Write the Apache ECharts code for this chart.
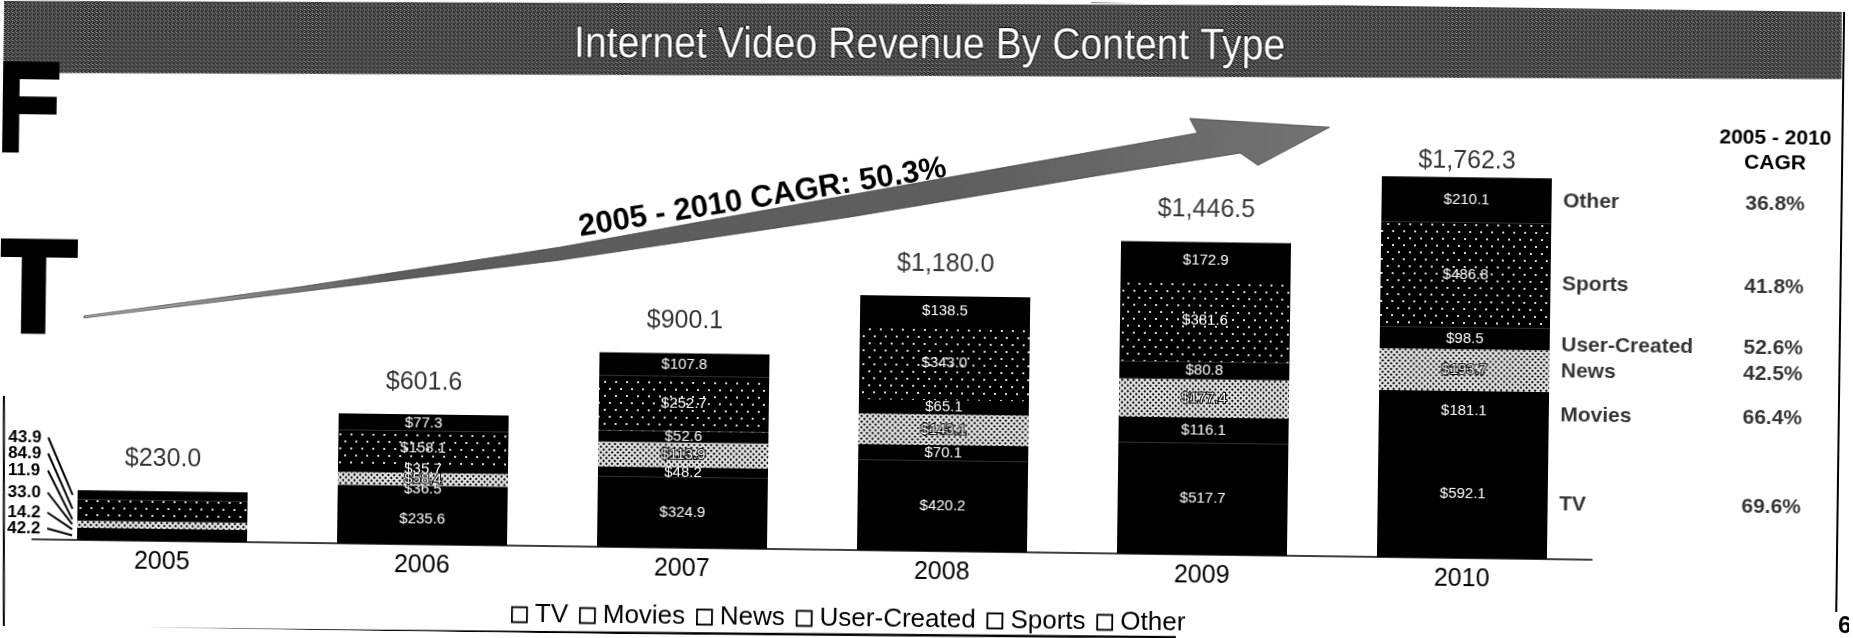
<!DOCTYPE html>
<html>
<head>
<meta charset="utf-8">
<title>Internet Video Revenue By Content Type</title>
<script src="https://cdn.jsdelivr.net/npm/echarts@6/dist/echarts.min.js"></script>
<style>
  html, body { margin: 0; padding: 0; background: #fff; overflow: hidden; }
  #chart { width: 1853px; height: 638px; transform: rotate(0.75deg); transform-origin: 50% 50%; }
</style>
</head>
<body>
<div id="chart"></div>
<script>
// Revenue by content type, $ millions
const years = ['2005', '2006', '2007', '2008', '2009', '2010'];
const tv          = [42.2, 235.6, 324.9, 420.2, 517.7, 592.1];
const movies      = [14.2, 36.5, 48.2, 70.1, 116.1, 181.1];
const news        = [33.0, 58.4, 113.9, 143.1, 177.4, 193.7];
const userCreated = [11.9, 35.7, 52.6, 65.1, 80.8, 98.5];
const sports      = [84.9, 158.1, 252.7, 343.0, 381.6, 486.8];
const other       = [43.9, 77.3, 107.8, 138.5, 172.9, 210.1];
const totals      = [230.0, 601.6, 900.1, 1180.0, 1446.5, 1762.3];
// 2005-2010 CAGR per content type (TV, Movies, News, User-Created, Sports, Other)
const cagr        = [69.6, 66.4, 42.5, 52.6, 41.8, 36.8];
const overallCagr = 50.3;

const names  = ['TV', 'Movies', 'News', 'User-Created', 'Sports', 'Other'];
const values = [tv, movies, news, userCreated, sports, other];

const FONT = '"Liberation Sans", Arial, Helvetica, sans-serif';
const BAR_WIDTH = 170;

const money = v => v.toLocaleString('en-US', { minimumFractionDigits: 1, maximumFractionDigits: 1 });

// small repeating dither used for the header band
function makeTexture(size, bg, fg, dots) {
  const c = document.createElement('canvas');
  c.width = size; c.height = size;
  const g = c.getContext('2d');
  g.fillStyle = bg; g.fillRect(0, 0, size, size);
  g.fillStyle = fg;
  dots.forEach(([x, y]) => g.fillRect(x, y, 1, 1));
  return c;
}
const bannerTexture = makeTexture(4, '#262626', '#9a9a9a',
  [[0, 0], [2, 1], [1, 2], [3, 3], [2, 3]]);

// per-segment fills
const segmentStyle = {
  'TV': { color: '#000' },
  'Movies': { color: '#000' },
  'News': {
    color: '#e4e4e4',
    decal: { symbol: 'rect', symbolSize: 1, color: '#000',
             dashArrayX: [1.5, 1.5], dashArrayY: [1.5, 1.5], rotation: 0.785 }
  },
  'User-Created': { color: '#000' },
  'Sports': {
    color: '#000',
    decal: { symbol: 'rect', symbolSize: 1, color: 'rgba(255,255,255,0.85)',
             dashArrayX: [[1.5, 8.5], [0, 5, 1.5, 3.5]], dashArrayY: [1.5, 5] }
  },
  'Other': { color: '#000' }
};

// where the 2005 call-out figures sit, left of the first bar
const calloutY = { 'Other': 449, 'Sports': 465, 'User-Created': 482, 'News': 504, 'Movies': 524, 'TV': 540 };
// small vertical nudges for the name / CAGR column
const noteNudge = { 'Other': 0, 'Sports': 8, 'User-Created': 6, 'News': 0, 'Movies': 4, 'TV': 9 };

const barSeries = names.map((name, k) => ({
  name,
  type: 'bar',
  stack: 'revenue',
  barWidth: BAR_WIDTH,
  silent: true,
  itemStyle: segmentStyle[name],
  data: values[k].map((v, i) => i === 0
    ? { value: v, label: { color: '#000', fontWeight: 'bold', fontSize: 17, textBorderWidth: 0 } }
    : v),
  label: {
    show: true,
    position: 'inside',
    color: '#fff',
    fontSize: 15,
    fontFamily: FONT,
    textBorderColor: name === 'News' ? '#000' : 'transparent',
    textBorderWidth: name === 'News' ? 2 : 0,
    formatter: p => p.dataIndex === 0 ? p.value.toFixed(1) : '$' + p.value.toFixed(1)
  },
  labelLayout: p => p.dataIndex === 0
    ? { x: 10, y: calloutY[name], align: 'left', verticalAlign: 'middle' }
    : {}
}));

// stack totals printed above each column
const totalSeries = {
  name: 'Total',
  type: 'scatter',
  symbolSize: 1,
  silent: true,
  itemStyle: { color: 'rgba(0,0,0,0)' },
  data: totals.map((v, i) => ({
    value: [years[i], v],
    label: { distance: i === years.length - 1 ? 3 : 19 }
  })),
  label: {
    show: true, position: 'top', fontSize: 25, color: '#000', fontFamily: FONT,
    formatter: p => '$' + money(p.value[1])
  },
  z: 5
};

// content-type names and CAGR column next to the last column
const last = years.length - 1;
let running = 0;
const noteData = names.map((name, k) => {
  const v = values[k][last];
  const mid = running + v / 2;
  running += v;
  return {
    name,
    value: [years[last], mid],
    label: {
      offset: [0, noteNudge[name]],
      formatter: '{n|' + name + '}{p|' + cagr[k].toFixed(1) + '%}'
    }
  };
});
const noteSeries = {
  name: 'notes',
  type: 'scatter',
  symbolSize: 1,
  silent: true,
  itemStyle: { color: 'rgba(0,0,0,0)' },
  data: noteData,
  label: {
    show: true, position: 'right', distance: 96, color: '#000',
    rich: {
      n: { fontSize: 21, fontWeight: 'bold', width: 167, color: '#000', fontFamily: FONT },
      p: { fontSize: 21, fontWeight: 'bold', width: 90, align: 'center', color: '#000', fontFamily: FONT }
    }
  },
  z: 10
};

// growth arrow outline
const arrowPoints = [
  [84, 327], [300, 295], [559, 252], [848, 196], [1195, 129.5], [1187, 115],
  [1327, 122], [1256, 161], [1238, 149], [1098, 173], [849, 218], [559, 265],
  [300, 300], [84, 329]
];

const graphics = [
  {
    id: 'banner', type: 'group', x: 926, y: 40, rotation: 0.55 * Math.PI / 180,
    children: [
      { type: 'rect', shape: { x: -940, y: -36, width: 1852, height: 72 },
        style: { fill: { image: bannerTexture, repeat: 'repeat' } } },
      { type: 'text', x: 0, y: 6, scaleX: 0.89,
        style: { text: 'Internet Video Revenue By Content Type', fill: '#fff',
                 fontSize: 44, fontFamily: FONT, align: 'center', verticalAlign: 'middle',
                 stroke: '#111', lineWidth: 2 } }
    ]
  },
  {
    id: 'arrow', type: 'polygon', z: 1,
    shape: { points: arrowPoints },
    style: {
      fill: { type: 'linear', x: 0, y: 0, x2: 1, y2: 0,
              colorStops: [{ offset: 0, color: '#b0b0b0' }, { offset: 0.25, color: '#5c5c5c' },
                           { offset: 0.7, color: '#5e5e5e' }, { offset: 1, color: '#737373' }] },
      stroke: '#222', lineWidth: 0.6
    }
  },
  {
    id: 'arrowText', type: 'text', x: 761, y: 200, rotation: 10 * Math.PI / 180, z: 2,
    style: { text: '2005 - 2010 CAGR: ' + overallCagr.toFixed(1) + '%', fill: '#000',
             fontSize: 31, fontWeight: 'bold', fontFamily: FONT, align: 'center', verticalAlign: 'middle' }
  },
  {
    id: 'cagrHead', type: 'text', x: 1773, y: 140,
    style: { text: years[0] + ' - ' + years[last] + '\nCAGR', fill: '#000', fontSize: 21,
             fontWeight: 'bold', fontFamily: FONT, align: 'center', verticalAlign: 'middle', lineHeight: 25 }
  },
  {
    id: 'bigF', type: 'text', x: -18, y: 133,
    style: { text: 'F', fill: '#000', fontSize: 124, fontWeight: 'bold',
             fontFamily: '"DejaVu Sans", sans-serif', align: 'left', verticalAlign: 'middle' }
  },
  {
    id: 'bigT', type: 'text', x: -11, y: 312,
    style: { text: 'T', fill: '#000', fontSize: 130, fontWeight: 'bold',
             fontFamily: '"DejaVu Sans", sans-serif', align: 'left', verticalAlign: 'middle' }
  },
  {
    id: 'pageNo', type: 'text', x: 1842, y: 614,
    style: { text: '6', fill: '#000', fontSize: 24, fontWeight: 'bold', fontFamily: FONT,
             align: 'left', verticalAlign: 'middle' }
  },
  { id: 'edgeBottom', type: 'line', shape: { x1: 0, y1: 640, x2: 1180, y2: 634 },
    style: { stroke: '#000', lineWidth: 2.5 } },
  { id: 'edgeLeft', type: 'line', shape: { x1: 5, y1: 408, x2: 8, y2: 644 },
    style: { stroke: '#000', lineWidth: 2 } },
  { id: 'edgeRight', type: 'line', shape: { x1: 1840, y1: -5, x2: 1840, y2: 600 },
    style: { stroke: '#000', lineWidth: 2 } },
  { id: 'edgeTop', type: 'line', shape: { x1: 1087, y1: -1, x2: 1853, y2: -9 },
    style: { stroke: '#000', lineWidth: 3 } }
];

const option = {
  animation: false,
  backgroundColor: '#fff',
  textStyle: { fontFamily: FONT },
  grid: { left: 35, right: 258, top: 119, bottom: 87, containLabel: false },
  xAxis: {
    type: 'category',
    data: years,
    axisTick: { show: false },
    axisLine: { show: true, lineStyle: { color: '#000', width: 1.5 } },
    axisLabel: { color: '#000', fontSize: 25, margin: 9, fontFamily: FONT }
  },
  yAxis: {
    type: 'value', min: 0, max: 2000, show: false,
    splitLine: { show: false }
  },
  legend: {
    data: names,
    left: 510, top: 602,
    icon: 'rect', itemWidth: 15, itemHeight: 15, itemGap: 11,
    selectedMode: false,
    itemStyle: { color: '#fff', borderColor: '#000', borderWidth: 1.5,
                 decal: { symbol: 'rect', color: 'rgba(0,0,0,0)' } },
    textStyle: { color: '#000', fontSize: 26, fontFamily: FONT, padding: [0, 0, 0, 3] }
  },
  graphic: graphics,
  series: [...barSeries, totalSeries, noteSeries]
};

const chart = echarts.init(document.getElementById('chart'), null, { renderer: 'canvas' });
chart.setOption(option);

// leader lines from the 2005 call-out figures to their segments
const barLeft = chart.convertToPixel({ xAxisIndex: 0 }, years[0]) - BAR_WIDTH / 2;
let base2005 = 0;
const leaders = names.map((name, k) => {
  const v = values[k][0];
  const yMid = chart.convertToPixel({ yAxisIndex: 0 }, base2005 + v / 2);
  base2005 += v;
  return {
    id: 'leader-' + name, type: 'line', z: 20,
    shape: { x1: 50, y1: calloutY[name], x2: barLeft - 5, y2: yMid },
    style: { stroke: '#000', lineWidth: 2 }
  };
});
chart.setOption({ graphic: leaders });
</script>
</body>
</html>
